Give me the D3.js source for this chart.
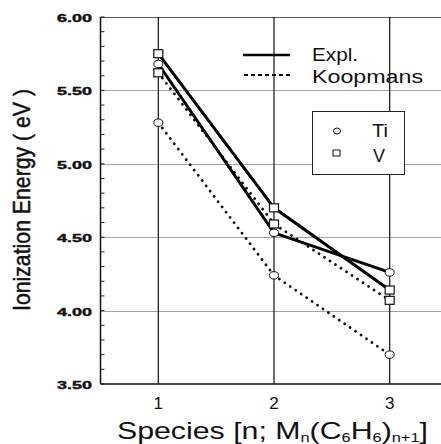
<!DOCTYPE html>
<html><head><meta charset="utf-8">
<script src="https://cdn.jsdelivr.net/npm/d3@7"></script>
<style>body{margin:0;background:#fff}svg{display:block}</style>
</head><body>
<svg id="c" width="441" height="444"></svg>
<script>
const species = [1, 2, 3];
const tiExpl = [5.68, 4.53, 4.26];
const tiKoop = [5.28, 4.24, 3.70];
const vExpl = [5.75, 4.70, 4.14];
const vKoop = [5.62, 4.59, 4.07];
const yTicks = [3.5, 4.0, 4.5, 5.0, 5.5, 6.0];
const xTicks = [1, 2, 3];

const svg = d3.select("#c");
const x = d3.scaleLinear().domain([0.5, 3.5]).range([100.5, 447.5]);
const y = d3.scaleLinear().domain([3.5, 6.0]).range([384, 17]);
const font = "Liberation Sans, Arial, Helvetica, sans-serif";

// horizontal dotted gridlines
svg.append("g").selectAll("line").data([4.0, 4.5, 5.0, 5.5]).join("line")
  .attr("x1", x(0.5)).attr("x2", 441)
  .attr("y1", d => Math.round(y(d)) + 0.5).attr("y2", d => Math.round(y(d)) + 0.5)
  .attr("stroke", "#444").attr("stroke-width", 1).attr("stroke-dasharray", "1,1");
// top border
svg.append("line").attr("x1", x(0.5)).attr("x2", 441).attr("y1", Math.round(y(6)) + 0.5).attr("y2", Math.round(y(6)) + 0.5)
  .attr("stroke", "#555").attr("stroke-width", 1);
// vertical gridlines
svg.append("g").selectAll("line").data(xTicks).join("line")
  .attr("x1", d => x(d)).attr("x2", d => x(d))
  .attr("y1", y(6)).attr("y2", y(3.5))
  .attr("stroke", "#222").attr("stroke-width", 1.3);

// minor ticks
const minor = d3.range(35, 61).map(d => d / 10);
svg.append("g").selectAll("line").data(minor).join("line")
  .attr("x1", x(0.5)).attr("x2", x(0.5) + 4)
  .attr("y1", d => y(d)).attr("y2", d => y(d))
  .attr("stroke", "#222").attr("stroke-width", 1);

// axes lines
svg.append("line").attr("x1", x(0.5)).attr("x2", x(0.5)).attr("y1", y(6)).attr("y2", y(3.5))
  .attr("stroke", "#111").attr("stroke-width", 1.5);
svg.append("line").attr("x1", x(0.5)).attr("x2", 441).attr("y1", y(3.5)).attr("y2", y(3.5))
  .attr("stroke", "#111").attr("stroke-width", 1.5);

// y tick labels
svg.append("g").selectAll("text").data(yTicks).join("text")
  .attr("x", 57).attr("y", d => y(d) + 5)
  .attr("font-family", font).attr("font-weight", "bold")
  .attr("font-size", 11.5).attr("fill", "#111").attr("stroke", "#111").attr("stroke-width", 0.4)
  .attr("textLength", 35).attr("lengthAdjust", "spacingAndGlyphs")
  .text(d => d.toFixed(2));
// x tick labels
svg.append("g").selectAll("text").data(xTicks).join("text")
  .attr("x", d => x(d)).attr("y", 409)
  .attr("text-anchor", "middle").attr("font-family", font)
  .attr("font-size", 17).attr("fill", "#111")
  .text(d => d);

// axis titles
svg.append("text").attr("transform", "translate(30,200) rotate(-90)")
  .attr("text-anchor", "middle").attr("font-family", "Liberation Sans Narrow, Arial Narrow, " + font)
  .attr("font-size", 24).attr("fill", "#111").attr("stroke", "#111").attr("stroke-width", 0.5)
  .attr("textLength", 222).attr("lengthAdjust", "spacingAndGlyphs")
  .text("Ionization Energy ( eV )");
const xt = svg.append("text").attr("x", 117).attr("y", 439)
  .attr("font-family", font).attr("font-size", 24).attr("fill", "#111")
  .attr("textLength", 311).attr("lengthAdjust", "spacingAndGlyphs");
xt.append("tspan").text("Species [n; M");
xt.append("tspan").attr("font-size", 13).attr("dy", 3).text("n");
xt.append("tspan").attr("dy", -3).text("(C");
xt.append("tspan").attr("font-size", 13).attr("dy", 3).text("6");
xt.append("tspan").attr("dy", -3).text("H");
xt.append("tspan").attr("font-size", 13).attr("dy", 3).text("6");
xt.append("tspan").attr("dy", -3).text(")");
xt.append("tspan").attr("font-size", 13).attr("dy", 3).text("n+1");
xt.append("tspan").attr("dy", -3).text("]");

// lines
const straight = d3.line().x((d, i) => x(species[i])).y(d => y(d));
[tiKoop, vKoop].forEach(s => svg.append("path").attr("d", straight(s))
  .attr("fill", "none").attr("stroke", "#111").attr("stroke-width", 2.8)
  .attr("stroke-dasharray", "0.1,6.5").attr("stroke-linecap", "round"));
[tiExpl, vExpl].forEach(s => svg.append("path").attr("d", straight(s))
  .attr("fill", "none").attr("stroke", "#000").attr("stroke-width", 3));

// markers
function circles(s) {
  svg.append("g").selectAll("ellipse").data(s).join("ellipse")
    .attr("cx", (d, i) => x(species[i])).attr("cy", d => y(d))
    .attr("rx", 4.5).attr("ry", 3.7)
    .attr("fill", "#fff").attr("stroke", "#111").attr("stroke-width", 1);
}
function squares(s) {
  svg.append("g").selectAll("rect").data(s).join("rect")
    .attr("x", (d, i) => x(species[i]) - 4.5).attr("y", d => y(d) - 4)
    .attr("width", 9).attr("height", 8)
    .attr("fill", "#fff").attr("stroke", "#111").attr("stroke-width", 1.2);
}
circles(tiExpl); circles(tiKoop); squares(vExpl); squares(vKoop);

// legend lines
svg.append("line").attr("x1", 243).attr("x2", 290).attr("y1", 55).attr("y2", 55)
  .attr("stroke", "#000").attr("stroke-width", 2.5);
svg.append("line").attr("x1", 244).attr("x2", 290).attr("y1", 75).attr("y2", 75)
  .attr("stroke", "#000").attr("stroke-width", 2.2).attr("stroke-dasharray", "4,3");
svg.append("text").attr("x", 312).attr("y", 61).attr("font-family", font).attr("font-size", 18).attr("fill", "#111")
  .attr("textLength", 46).attr("lengthAdjust", "spacingAndGlyphs").text("Expl.");
svg.append("text").attr("x", 312).attr("y", 83).attr("font-family", font).attr("font-size", 18).attr("fill", "#111")
  .attr("textLength", 111).attr("lengthAdjust", "spacingAndGlyphs").text("Koopmans");

// symbol legend
svg.append("rect").attr("x", 312.5).attr("y", 111.5).attr("width", 92).attr("height", 63)
  .attr("fill", "#fff").attr("stroke", "#222").attr("stroke-width", 1);
svg.append("ellipse").attr("cx", 337).attr("cy", 131).attr("rx", 3.5).attr("ry", 3)
  .attr("fill", "#fff").attr("stroke", "#111");
svg.append("rect").attr("x", 333).attr("y", 150).attr("width", 7).attr("height", 6)
  .attr("fill", "#fff").attr("stroke", "#111");
svg.append("text").attr("x", 372).attr("y", 137).attr("font-family", font).attr("font-size", 18).attr("fill", "#111")
  .attr("textLength", 16).attr("lengthAdjust", "spacingAndGlyphs").text("Ti");
svg.append("text").attr("x", 373).attr("y", 162).attr("font-family", font).attr("font-size", 18).attr("fill", "#111").text("V");
</script>
</body></html>
